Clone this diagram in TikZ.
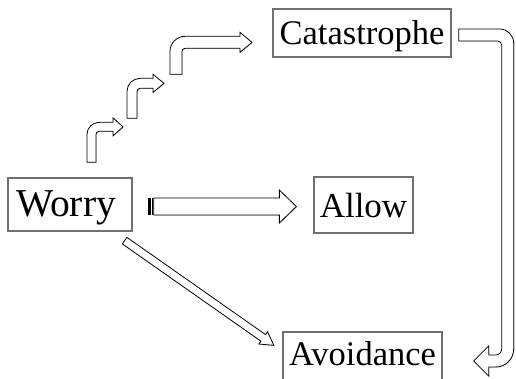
\documentclass[tikz,border=0pt]{standalone}
\usepackage{fontspec}
\setmainfont{Liberation Serif}
\usetikzlibrary{positioning, calc, shadows}
\definecolor{boxgray}{RGB}{112, 112, 112}

\tikzset{
  box/.style={draw=boxgray, line width=1.3pt, fill=white, inner sep=0pt, text depth=0pt},
  blockarrow/.style={draw=black, fill=white, line width=0.8pt, line join=miter,
    drop shadow={opacity=0.25, shadow xshift=0.9pt, shadow yshift=-0.9pt}},
  % up-and-right bent arrow: shaft width, height, length to tip, head length, head half height
  pics/bentarr/.style n args={5}{code={
    \draw[blockarrow] (0,0) -- (0,{-#2+#1+3}) arc(180:270:{#1+3})
      -- ({#3-#4},{-#2}) -- ({#3-#4},{-#2+#1/2-#5}) -- (#3,{-#2+#1/2})
      -- ({#3-#4},{-#2+#1/2+#5}) -- ({#3-#4},{-#2+#1})
      -- ({#1+3},{-#2+#1}) arc(270:180:3) -- (#1,0) -- cycle;
  }}
}

% straight block arrow: tail, tip, shaft half width, head half width, head length
\newcommand{\blockarr}[5]{%
  \coordinate (hb) at ($(#2)!#5!(#1)$);
  \draw[blockarrow] ($(#1)!#3!90:(#2)$) -- ($(hb)!#3!90:(#2)$) -- ($(hb)!#4!90:(#2)$)
    -- (#2) -- ($(hb)!#4!-90:(#2)$) -- ($(hb)!#3!-90:(#2)$) -- ($(#1)!#3!-90:(#2)$) -- cycle;
}

\begin{document}
\begin{tikzpicture}[x=1pt, y=-1pt]
  \useasboundingbox (0,0) rectangle (516,379);
  \clip (0,0) rectangle (516,379);

  % Boxes
  \node[box, minimum width=124, minimum height=53, text height=25pt,
        font=\fontsize{39.5}{42}\selectfont] (worry) at (70,204.5) {Worry\kern 8pt};
  \node[box, minimum width=99, minimum height=56, text height=26pt,
        font=\fontsize{35}{40}\selectfont] (allow) at (363.5,205) {Allow};
  \node[box, minimum width=178, minimum height=48, text height=24pt,
        font=\fontsize{34.5}{38}\selectfont] (cat) at (362,33) {Catastrophe};
  \node[box, minimum width=159, minimum height=50, text height=16pt,
        font=\fontsize{34.5}{38}\selectfont] (avoid) at (362.5,357) {Avoidance};

  % Worry -> Allow
  \coordinate (wtail) at ($(worry.east)+(21,2)$);
  \coordinate (wtip) at ($(allow.west)+(-17,1.5)$);
  \blockarr{wtail}{wtip}{8.5pt}{16.5pt}{17pt}
  \fill ($(worry.east)+(15,-6.5)$) rectangle ++(3.5,17);
  \fill ($(worry.east)+(19.3,-6.5)$) rectangle ++(1.2,17);

  % Worry -> Avoidance
  \coordinate (dtail) at ($(worry.south east)+(-8,9)$);
  \coordinate (dtip) at ($(avoid.north west)+(-8.5,14)$);
  \blockarr{dtail}{dtip}{4pt}{7.5pt}{13pt}

  % Worry -> Catastrophe, in steps
  \pic at ($(worry.north)+(17,-15)$) {bentarr={9}{40}{36}{10}{9}};
  \pic at ($(worry.north)+(57,-59)$) {bentarr={10}{40}{37}{11}{9}};
  \pic at ($(worry.north)+(100,-103)$) {bentarr={12}{38}{82}{12}{10}};

  % Catastrophe -> Avoidance
  \begin{scope}[shift={(cat.east)}]
    \draw[blockarrow] (7,-4) -- (48,-4) arc(270:360:14) -- (62,316) arc(0:90:18)
      -- (37,334) -- (37,343) -- (22,328) -- (37,313) -- (37,322)
      -- (44,322) arc(90:0:6) -- (50,12) arc(0:-90:4) -- (7,8) -- cycle;
  \end{scope}
\end{tikzpicture}
\end{document}
